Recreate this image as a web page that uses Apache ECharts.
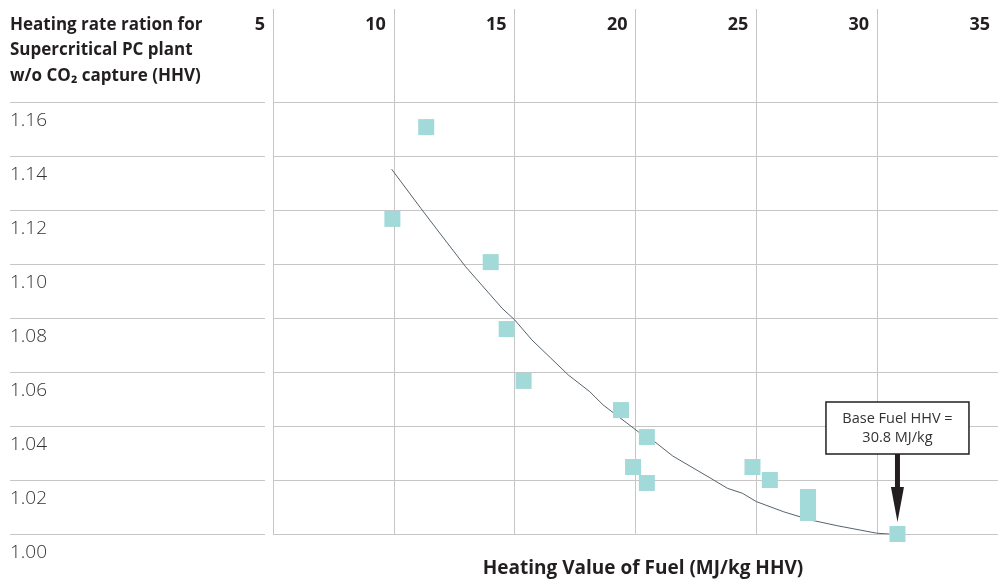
<!DOCTYPE html>
<html><head><meta charset="utf-8">
<script src="https://cdn.jsdelivr.net/npm/echarts@6/dist/echarts.min.js"></script>
<style>html,body{margin:0;padding:0;background:#fff}#c{width:998px;height:584px}</style>
</head><body><div id="c"></div>
<script>
// ---- data ----
const xMin = 5, xMax = 35, xStep = 5;
const yMin = 1.00, yMax = 1.16, yStep = 0.02;
const yTitle = 'Heating rate ration for\nSupercritical PC plant\nw/o CO\u2082 capture (HHV)';
const xTitle = 'Heating Value of Fuel (MJ/kg HHV)';
const samplePoints = [
  [11.34, 1.1507], [9.94, 1.1167], [14.01, 1.1007], [14.67, 1.0759], [15.37, 1.0567],
  [19.40, 1.0459], [20.47, 1.0359], [19.90, 1.0248], [20.47, 1.0189],
  [24.84, 1.0248], [25.56, 1.0200], [27.14, 1.0137], [27.14, 1.0078]
];
const basePoint = [30.84, 1.000];
const trendLine = [
  [9.91, 1.1351], [11.12, 1.1206], [11.80, 1.1126], [12.97, 1.0990], [14.48, 1.0836],
  [15.0, 1.0793], [15.71, 1.0719], [17.22, 1.0589], [18.11, 1.0527], [18.66, 1.0478],
  [20.14, 1.0377], [20.79, 1.0342], [21.54, 1.0289], [23.12, 1.0206], [23.81, 1.0169],
  [24.42, 1.0151], [25.0, 1.0120], [26.14, 1.0082], [27.24, 1.0052], [28.33, 1.0031],
  [29.98, 1.0003], [30.5, 1.000]
];
const annotationText = 'Base Fuel HHV =\n30.8 MJ/kg';

// ---- chart ----
const gridColor = '#c6c6c6';
const boldFont = 'Open Sans';
const chart = echarts.init(document.getElementById('c'), null, {renderer: 'canvas'});
const hidden = {show: false};
chart.setOption({
  animation: false,
  title: {
    text: yTitle, left: 10, top: 12, padding: 0,
    textStyle: {fontFamily: boldFont, fontWeight: 'bold', fontSize: 17, lineHeight: 25.5, color: '#231f20'}
  },
  grid: [
    {left: 273, width: 729, top: 102, height: 432},
    {left: 273, width: 729, top: 9, height: 93},
    {left: 10, width: 255, top: 102, height: 432}
  ],
  xAxis: [
    {gridIndex: 0, type: 'value', min: xMin, max: xMax, interval: xStep, position: 'bottom',
     axisLine: hidden, axisTick: hidden, axisLabel: hidden,
     splitLine: {show: true, lineStyle: {color: gridColor, width: 1}},
     name: xTitle, nameLocation: 'middle', nameGap: 25,
     nameTextStyle: {fontFamily: boldFont, fontWeight: 'bold', fontSize: 19, color: '#231f20', padding: [0, 0, 0, 15]}},
    {gridIndex: 1, type: 'value', min: xMin, max: xMax, interval: xStep, position: 'top',
     axisLine: hidden, axisTick: hidden,
     axisLabel: {inside: true, margin: 7, align: 'right', padding: [0, 8, 0, 0],
       fontFamily: boldFont, fontWeight: 'bold', fontSize: 18, color: '#231f20'},
     splitLine: {show: true, lineStyle: {color: gridColor, width: 1}}},
    {gridIndex: 2, type: 'value', min: 0, max: 1, show: false}
  ],
  yAxis: [
    {gridIndex: 0, type: 'value', min: yMin, max: yMax, interval: yStep,
     axisLine: hidden, axisTick: hidden, axisLabel: hidden,
     splitLine: {show: true, lineStyle: {color: gridColor, width: 1}}},
    {gridIndex: 1, type: 'value', min: 0, max: 1, show: false},
    {gridIndex: 2, type: 'value', min: yMin, max: yMax, interval: yStep,
     axisLine: hidden, axisTick: hidden,
     axisLabel: {inside: true, margin: 0, align: 'left', verticalAlign: 'top', padding: [9, 0, 0, 0],
       formatter: v => v.toFixed(2),
       fontFamily: boldFont, fontWeight: 300, fontSize: 19, color: '#333'},
     splitLine: {show: true, lineStyle: {color: gridColor, width: 1}}}
  ],
  series: [
    {type: 'line', xAxisIndex: 0, yAxisIndex: 0, data: trendLine, showSymbol: false, z: 2,
     lineStyle: {color: '#56636d', width: 1}},
    {type: 'scatter', xAxisIndex: 0, yAxisIndex: 0, data: samplePoints.concat([basePoint]),
     symbol: 'rect', symbolSize: 16, z: 3, itemStyle: {color: '#a2d9d9', opacity: 1}}
  ]
});

// annotation anchored on the base point
const p = chart.convertToPixel({gridIndex: 0}, basePoint);
const bx = p[0], by = p[1];
chart.setOption({
  graphic: [
    {type: 'rect', shape: {x: bx - 71.5, y: by - 132, width: 143, height: 52},
     style: {fill: '#fff', stroke: '#231f20', lineWidth: 1.5}, z: 10},
    {type: 'text', x: bx, y: by - 106, z: 11,
     style: {text: annotationText, align: 'center', verticalAlign: 'middle',
       fontFamily: 'Open Sans', fontSize: 14.5, lineHeight: 19, fill: '#333'}},
    {type: 'rect', shape: {x: bx - 2.5, y: by - 80, width: 5, height: 35},
     style: {fill: '#231f20'}, z: 10},
    {type: 'polygon', shape: {points: [[bx - 6.5, by - 47], [bx + 6.5, by - 47], [bx, by - 12]]},
     style: {fill: '#231f20'}, z: 10}
  ]
});
</script></body></html>
